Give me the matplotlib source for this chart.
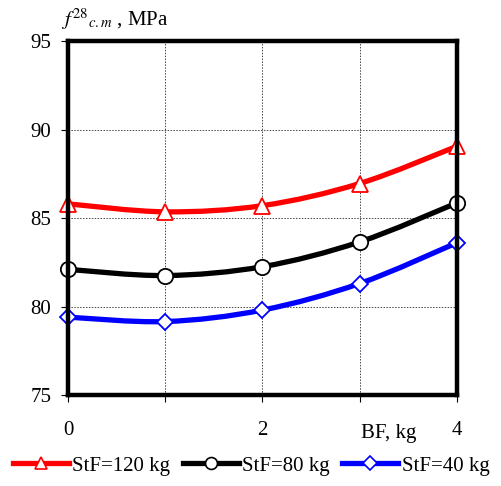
import matplotlib.pyplot as plt
from matplotlib.path import Path
from matplotlib.patches import PathPatch
from matplotlib.lines import Line2D

# data
bf = [0, 1, 2, 3, 4]
stf120 = [85.8, 85.35, 85.7, 86.95, 89.05]
stf80 = [82.1, 81.75, 82.25, 83.65, 85.85]
stf40 = [79.4, 79.15, 79.8, 81.3, 83.6]
labels = ['StF=120 kg', 'StF=80 kg', 'StF=40 kg']
colors = ['red', 'black', 'blue']
markers = ['^', 'o', 'D']
msizes = [11, 11, 8.5]

plt.rcParams['font.family'] = ['Liberation Serif', 'DejaVu Serif']
plt.rcParams['mathtext.fontset'] = 'stix'


def smooth_path(x, y):
    # Catmull-Rom segments as cubic Bezier curves (Excel-like smoothed line)
    verts = [(x[0], y[0])]
    codes = [Path.MOVETO]
    n = len(x)
    for i in range(n - 1):
        x0, y0 = (x[i - 1], y[i - 1]) if i > 0 else (x[i], y[i])
        x3, y3 = (x[i + 2], y[i + 2]) if i + 2 < n else (x[i + 1], y[i + 1])
        c1 = (x[i] + (x[i + 1] - x0) / 6, y[i] + (y[i + 1] - y0) / 6)
        c2 = (x[i + 1] - (x3 - x[i]) / 6, y[i + 1] - (y3 - y[i]) / 6)
        verts += [c1, c2, (x[i + 1], y[i + 1])]
        codes += [Path.CURVE4] * 3
    return Path(verts, codes)


fig = plt.figure(figsize=(5.02, 4.86), dpi=100)
ax = fig.add_axes([0.1355, 0.1872, 0.7745, 0.7284])

handles = []
for ys, c, m, ms, lab in zip([stf120, stf80, stf40], colors, markers, msizes, labels):
    ax.add_patch(PathPatch(smooth_path(bf, ys), facecolor='none', edgecolor=c,
                           linewidth=3.8, zorder=3, clip_on=False))
    ax.plot(bf, ys, linestyle='none', marker=m, markersize=ms, markerfacecolor='white',
            markeredgecolor=c, markeredgewidth=1.3, zorder=4, clip_on=False)
    handles.append(Line2D([], [], color=c, linewidth=3.8, marker=m, markersize=ms * 0.78,
                          markerfacecolor='white', markeredgecolor=c, markeredgewidth=1.2))

ax.set_xlim(0, 4)
ax.set_ylim(75, 95)
ax.set_xticks([0, 1, 2, 3, 4])
ax.set_xticklabels(['0', '', '2', '', '4'])
ax.set_yticks([75, 80, 85, 90, 95])
ax.tick_params(axis='both', direction='out', length=5, width=0.8, labelsize=15)
ax.tick_params(axis='x', pad=14)
ax.tick_params(axis='y', pad=7)
ax.grid(True, linestyle=(0, (1.5, 1.5)), linewidth=0.7, color='#444444')
ax.set_axisbelow(True)
for s in ax.spines.values():
    s.set_linewidth(3.2)
    s.set_zorder(5)

ax.text(3.3, 73.35, 'BF, kg', ha='center', va='top', fontsize=15)
fig.text(0.122, 0.935, r'$f^{28}{}_{c.m}$ , MPa', ha='left', va='bottom', fontsize=15)

fig.legend(handles=handles, labels=labels, loc='lower center', bbox_to_anchor=(0.5, 0.0),
           ncol=3, frameon=False, fontsize=15, handlelength=2.7, handletextpad=0.15,
           columnspacing=0.6, borderaxespad=0.1)

fig.savefig('out.png', dpi=100)
